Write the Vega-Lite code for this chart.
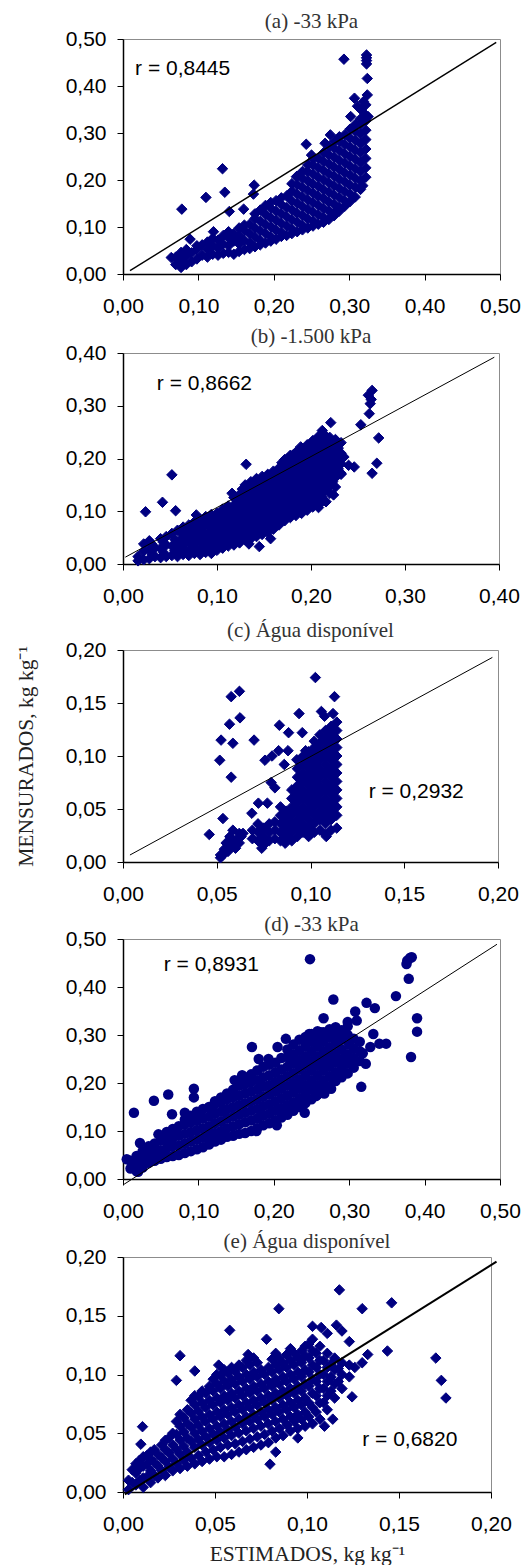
{
"$schema": "https://vega.github.io/schema/vega-lite/v6.json",
"background": "white",
"padding": {"left": 14, "top": 10, "right": 4, "bottom": 0},
"autosize": {"type": "pad"},
"config": {
  "view": {"stroke": "#8c8c8c", "strokeWidth": 1},
  "axis": {"grid": false, "domainColor": "#000000", "domainWidth": 1.5, "tickColor": "#000000", "tickSize": 6, "tickWidth": 1, "labelColor": "#000000", "labelFont": "Liberation Sans", "labelFontSize": 21, "labelFlush": false, "labelOverlap": false, "labelBound": false, "titleFont": "Liberation Serif", "titleFontSize": 21.5, "titleFontWeight": "normal", "titleColor": "#222222"},
  "axisX": {"labelPadding": 15},
  "axisY": {"labelPadding": 11},
  "title": {"font": "Liberation Serif", "fontSize": 21, "fontWeight": "normal", "color": "#333333", "offset": -1},
  "concat": {"spacing": 8}
},
"datasets": {
"a": [
{"x":0.078,"y":0.138},{"x":0.110,"y":0.163},{"x":0.132,"y":0.224},{"x":0.135,"y":0.174},{"x":0.141,"y":0.133},{"x":0.160,"y":0.138},{"x":0.174,"y":0.189},{"x":0.173,"y":0.170},{"x":0.089,"y":0.074},{"x":0.064,"y":0.035},{"x":0.120,"y":0.090},{"x":0.243,"y":0.276},{"x":0.293,"y":0.457},{"x":0.323,"y":0.466},{"x":0.323,"y":0.460},{"x":0.323,"y":0.454},{"x":0.323,"y":0.447},{"x":0.324,"y":0.416},{"x":0.324,"y":0.381},{"x":0.307,"y":0.374},{"x":0.319,"y":0.367},{"x":0.302,"y":0.335},{"x":0.316,"y":0.349},{"x":0.325,"y":0.335},{"x":0.318,"y":0.188},{"x":0.275,"y":0.296},{"x":0.268,"y":0.278},{"x":0.250,"y":0.253},{"x":0.230,"y":0.207},{"x":0.311,"y":0.357},{"x":0.322,"y":0.360},
{"x":0.070,"y":0.020},{"x":0.070,"y":0.036},
{"x":0.077,"y":0.014},{"x":0.077,"y":0.028},{"x":0.077,"y":0.046},
{"x":0.084,"y":0.020},{"x":0.084,"y":0.038},{"x":0.084,"y":0.052},
{"x":0.091,"y":0.026},{"x":0.091,"y":0.045},
{"x":0.098,"y":0.032},{"x":0.098,"y":0.052},{"x":0.098,"y":0.060},
{"x":0.105,"y":0.040},{"x":0.105,"y":0.062},
{"x":0.112,"y":0.036},{"x":0.112,"y":0.052},{"x":0.112,"y":0.068},
{"x":0.119,"y":0.042},{"x":0.119,"y":0.060},{"x":0.119,"y":0.076},
{"x":0.126,"y":0.040},{"x":0.126,"y":0.056},{"x":0.126,"y":0.072},
{"x":0.133,"y":0.044},{"x":0.133,"y":0.064},{"x":0.133,"y":0.082},
{"x":0.140,"y":0.046},{"x":0.140,"y":0.060},{"x":0.140,"y":0.078},{"x":0.140,"y":0.090},
{"x":0.147,"y":0.042},{"x":0.147,"y":0.070},{"x":0.147,"y":0.086},
{"x":0.154,"y":0.048},{"x":0.154,"y":0.064},{"x":0.154,"y":0.080},{"x":0.154,"y":0.098},
{"x":0.161,"y":0.052},{"x":0.161,"y":0.072},{"x":0.161,"y":0.092},{"x":0.161,"y":0.104},
{"x":0.168,"y":0.054},{"x":0.168,"y":0.066},{"x":0.168,"y":0.086},{"x":0.168,"y":0.106},
{"x":0.175,"y":0.058},{"x":0.175,"y":0.078},{"x":0.175,"y":0.098},{"x":0.175,"y":0.118},{"x":0.175,"y":0.128},
{"x":0.182,"y":0.062},{"x":0.182,"y":0.072},{"x":0.182,"y":0.092},{"x":0.182,"y":0.112},{"x":0.182,"y":0.136},
{"x":0.189,"y":0.066},{"x":0.189,"y":0.086},{"x":0.189,"y":0.106},{"x":0.189,"y":0.126},{"x":0.189,"y":0.146},
{"x":0.196,"y":0.070},{"x":0.196,"y":0.080},{"x":0.196,"y":0.100},{"x":0.196,"y":0.120},{"x":0.196,"y":0.140},{"x":0.196,"y":0.152},
{"x":0.203,"y":0.074},{"x":0.203,"y":0.094},{"x":0.203,"y":0.114},{"x":0.203,"y":0.134},{"x":0.203,"y":0.156},
{"x":0.210,"y":0.080},{"x":0.210,"y":0.088},{"x":0.210,"y":0.108},{"x":0.210,"y":0.128},{"x":0.210,"y":0.148},{"x":0.210,"y":0.162},
{"x":0.217,"y":0.082},{"x":0.217,"y":0.102},{"x":0.217,"y":0.122},{"x":0.217,"y":0.142},{"x":0.217,"y":0.166},
{"x":0.224,"y":0.086},{"x":0.224,"y":0.096},{"x":0.224,"y":0.116},{"x":0.224,"y":0.136},{"x":0.224,"y":0.156},{"x":0.224,"y":0.176},{"x":0.224,"y":0.192},
{"x":0.231,"y":0.090},{"x":0.231,"y":0.110},{"x":0.231,"y":0.130},{"x":0.231,"y":0.150},{"x":0.231,"y":0.170},{"x":0.231,"y":0.190},{"x":0.231,"y":0.208},
{"x":0.238,"y":0.094},{"x":0.238,"y":0.104},{"x":0.238,"y":0.124},{"x":0.238,"y":0.144},{"x":0.238,"y":0.164},{"x":0.238,"y":0.184},{"x":0.238,"y":0.204},{"x":0.238,"y":0.218},
{"x":0.245,"y":0.098},{"x":0.245,"y":0.118},{"x":0.245,"y":0.138},{"x":0.245,"y":0.158},{"x":0.245,"y":0.178},{"x":0.245,"y":0.198},{"x":0.245,"y":0.218},{"x":0.245,"y":0.232},
{"x":0.252,"y":0.102},{"x":0.252,"y":0.112},{"x":0.252,"y":0.132},{"x":0.252,"y":0.152},{"x":0.252,"y":0.172},{"x":0.252,"y":0.192},{"x":0.252,"y":0.212},{"x":0.252,"y":0.232},{"x":0.252,"y":0.244},
{"x":0.259,"y":0.106},{"x":0.259,"y":0.126},{"x":0.259,"y":0.146},{"x":0.259,"y":0.166},{"x":0.259,"y":0.186},{"x":0.259,"y":0.206},{"x":0.259,"y":0.226},{"x":0.259,"y":0.246},
{"x":0.266,"y":0.110},{"x":0.266,"y":0.120},{"x":0.266,"y":0.140},{"x":0.266,"y":0.160},{"x":0.266,"y":0.180},{"x":0.266,"y":0.200},{"x":0.266,"y":0.220},{"x":0.266,"y":0.240},{"x":0.266,"y":0.258},
{"x":0.273,"y":0.116},{"x":0.273,"y":0.134},{"x":0.273,"y":0.154},{"x":0.273,"y":0.174},{"x":0.273,"y":0.194},{"x":0.273,"y":0.214},{"x":0.273,"y":0.234},{"x":0.273,"y":0.254},{"x":0.273,"y":0.270},
{"x":0.280,"y":0.124},{"x":0.280,"y":0.130},{"x":0.280,"y":0.148},{"x":0.280,"y":0.168},{"x":0.280,"y":0.188},{"x":0.280,"y":0.208},{"x":0.280,"y":0.228},{"x":0.280,"y":0.248},{"x":0.280,"y":0.268},{"x":0.280,"y":0.282},
{"x":0.287,"y":0.134},{"x":0.287,"y":0.142},{"x":0.287,"y":0.162},{"x":0.287,"y":0.182},{"x":0.287,"y":0.202},{"x":0.287,"y":0.222},{"x":0.287,"y":0.242},{"x":0.287,"y":0.262},{"x":0.287,"y":0.282},{"x":0.287,"y":0.292},
{"x":0.294,"y":0.144},{"x":0.294,"y":0.156},{"x":0.294,"y":0.176},{"x":0.294,"y":0.196},{"x":0.294,"y":0.216},{"x":0.294,"y":0.236},{"x":0.294,"y":0.256},{"x":0.294,"y":0.276},{"x":0.294,"y":0.296},
{"x":0.301,"y":0.154},{"x":0.301,"y":0.170},{"x":0.301,"y":0.190},{"x":0.301,"y":0.210},{"x":0.301,"y":0.230},{"x":0.301,"y":0.250},{"x":0.301,"y":0.270},{"x":0.301,"y":0.290},{"x":0.301,"y":0.308},
{"x":0.308,"y":0.164},{"x":0.308,"y":0.184},{"x":0.308,"y":0.204},{"x":0.308,"y":0.224},{"x":0.308,"y":0.244},{"x":0.308,"y":0.264},{"x":0.308,"y":0.284},{"x":0.308,"y":0.304},{"x":0.308,"y":0.318},
{"x":0.315,"y":0.180},{"x":0.315,"y":0.198},{"x":0.315,"y":0.218},{"x":0.315,"y":0.238},{"x":0.315,"y":0.258},{"x":0.315,"y":0.278},{"x":0.315,"y":0.298},{"x":0.315,"y":0.318},{"x":0.315,"y":0.330},
{"x":0.322,"y":0.206},{"x":0.322,"y":0.226},{"x":0.322,"y":0.246},{"x":0.322,"y":0.266},{"x":0.322,"y":0.286},{"x":0.322,"y":0.306},{"x":0.322,"y":0.326},{"x":0.322,"y":0.338}
],
"b": [
{"x":0.024,"y":0.099},{"x":0.042,"y":0.117},{"x":0.056,"y":0.101},{"x":0.052,"y":0.169},{"x":0.131,"y":0.189},{"x":0.116,"y":0.134},{"x":0.078,"y":0.093},{"x":0.134,"y":0.038},{"x":0.145,"y":0.033},{"x":0.157,"y":0.048},{"x":0.265,"y":0.329},{"x":0.261,"y":0.320},{"x":0.263,"y":0.304},{"x":0.264,"y":0.312},{"x":0.262,"y":0.285},{"x":0.253,"y":0.264},{"x":0.221,"y":0.268},{"x":0.272,"y":0.239},{"x":0.270,"y":0.191},{"x":0.265,"y":0.172},{"x":0.246,"y":0.184},{"x":0.240,"y":0.187},{"x":0.232,"y":0.172},{"x":0.224,"y":0.131},{"x":0.219,"y":0.147},{"x":0.208,"y":0.107},{"x":0.216,"y":0.118},{"x":0.235,"y":0.203},{"x":0.189,"y":0.222},{"x":0.212,"y":0.253},{"x":0.230,"y":0.228},{"x":0.215,"y":0.240},
{"x":0.016,"y":0.006},{"x":0.016,"y":0.014},
{"x":0.022,"y":0.008},{"x":0.022,"y":0.024},{"x":0.022,"y":0.038},
{"x":0.028,"y":0.010},{"x":0.028,"y":0.028},{"x":0.028,"y":0.044},
{"x":0.034,"y":0.014},{"x":0.034,"y":0.030},
{"x":0.040,"y":0.012},{"x":0.040,"y":0.030},{"x":0.040,"y":0.048},
{"x":0.046,"y":0.014},{"x":0.046,"y":0.036},{"x":0.046,"y":0.052},
{"x":0.052,"y":0.016},{"x":0.052,"y":0.034},{"x":0.052,"y":0.058},
{"x":0.058,"y":0.014},{"x":0.058,"y":0.040},{"x":0.058,"y":0.064},
{"x":0.064,"y":0.018},{"x":0.064,"y":0.036},{"x":0.064,"y":0.054},{"x":0.064,"y":0.070},
{"x":0.070,"y":0.016},{"x":0.070,"y":0.042},{"x":0.070,"y":0.060},{"x":0.070,"y":0.074},
{"x":0.076,"y":0.020},{"x":0.076,"y":0.038},{"x":0.076,"y":0.056},{"x":0.076,"y":0.080},
{"x":0.082,"y":0.018},{"x":0.082,"y":0.044},{"x":0.082,"y":0.062},{"x":0.082,"y":0.084},
{"x":0.088,"y":0.022},{"x":0.088,"y":0.040},{"x":0.088,"y":0.058},{"x":0.088,"y":0.076},{"x":0.088,"y":0.090},
{"x":0.094,"y":0.020},{"x":0.094,"y":0.046},{"x":0.094,"y":0.064},{"x":0.094,"y":0.082},{"x":0.094,"y":0.094},
{"x":0.100,"y":0.026},{"x":0.100,"y":0.042},{"x":0.100,"y":0.060},{"x":0.100,"y":0.078},{"x":0.100,"y":0.096},
{"x":0.106,"y":0.030},{"x":0.106,"y":0.048},{"x":0.106,"y":0.066},{"x":0.106,"y":0.084},{"x":0.106,"y":0.104},
{"x":0.112,"y":0.034},{"x":0.112,"y":0.052},{"x":0.112,"y":0.070},{"x":0.112,"y":0.088},{"x":0.112,"y":0.110},
{"x":0.118,"y":0.036},{"x":0.118,"y":0.058},{"x":0.118,"y":0.076},{"x":0.118,"y":0.094},{"x":0.118,"y":0.112},{"x":0.118,"y":0.126},
{"x":0.124,"y":0.040},{"x":0.124,"y":0.060},{"x":0.124,"y":0.078},{"x":0.124,"y":0.096},{"x":0.124,"y":0.114},{"x":0.124,"y":0.132},
{"x":0.130,"y":0.046},{"x":0.130,"y":0.064},{"x":0.130,"y":0.082},{"x":0.130,"y":0.100},{"x":0.130,"y":0.118},{"x":0.130,"y":0.136},{"x":0.130,"y":0.150},
{"x":0.136,"y":0.048},{"x":0.136,"y":0.070},{"x":0.136,"y":0.088},{"x":0.136,"y":0.106},{"x":0.136,"y":0.124},{"x":0.136,"y":0.142},{"x":0.136,"y":0.156},
{"x":0.142,"y":0.052},{"x":0.142,"y":0.072},{"x":0.142,"y":0.090},{"x":0.142,"y":0.108},{"x":0.142,"y":0.126},{"x":0.142,"y":0.144},{"x":0.142,"y":0.162},
{"x":0.148,"y":0.056},{"x":0.148,"y":0.076},{"x":0.148,"y":0.094},{"x":0.148,"y":0.112},{"x":0.148,"y":0.130},{"x":0.148,"y":0.148},{"x":0.148,"y":0.166},
{"x":0.154,"y":0.060},{"x":0.154,"y":0.082},{"x":0.154,"y":0.100},{"x":0.154,"y":0.118},{"x":0.154,"y":0.136},{"x":0.154,"y":0.154},{"x":0.154,"y":0.170},
{"x":0.160,"y":0.066},{"x":0.160,"y":0.086},{"x":0.160,"y":0.104},{"x":0.160,"y":0.122},{"x":0.160,"y":0.140},{"x":0.160,"y":0.158},{"x":0.160,"y":0.176},
{"x":0.166,"y":0.074},{"x":0.166,"y":0.092},{"x":0.166,"y":0.110},{"x":0.166,"y":0.128},{"x":0.166,"y":0.146},{"x":0.166,"y":0.164},{"x":0.166,"y":0.182},
{"x":0.172,"y":0.082},{"x":0.172,"y":0.098},{"x":0.172,"y":0.116},{"x":0.172,"y":0.134},{"x":0.172,"y":0.152},{"x":0.172,"y":0.170},{"x":0.172,"y":0.188},{"x":0.172,"y":0.198},
{"x":0.178,"y":0.088},{"x":0.178,"y":0.104},{"x":0.178,"y":0.122},{"x":0.178,"y":0.140},{"x":0.178,"y":0.158},{"x":0.178,"y":0.176},{"x":0.178,"y":0.194},{"x":0.178,"y":0.206},
{"x":0.184,"y":0.092},{"x":0.184,"y":0.110},{"x":0.184,"y":0.128},{"x":0.184,"y":0.146},{"x":0.184,"y":0.164},{"x":0.184,"y":0.182},{"x":0.184,"y":0.200},{"x":0.184,"y":0.212},
{"x":0.190,"y":0.096},{"x":0.190,"y":0.114},{"x":0.190,"y":0.132},{"x":0.190,"y":0.150},{"x":0.190,"y":0.168},{"x":0.190,"y":0.186},{"x":0.190,"y":0.204},{"x":0.190,"y":0.220},
{"x":0.196,"y":0.102},{"x":0.196,"y":0.120},{"x":0.196,"y":0.138},{"x":0.196,"y":0.156},{"x":0.196,"y":0.174},{"x":0.196,"y":0.192},{"x":0.196,"y":0.210},{"x":0.196,"y":0.226},
{"x":0.202,"y":0.108},{"x":0.202,"y":0.126},{"x":0.202,"y":0.144},{"x":0.202,"y":0.162},{"x":0.202,"y":0.180},{"x":0.202,"y":0.198},{"x":0.202,"y":0.216},{"x":0.202,"y":0.234},
{"x":0.208,"y":0.112},{"x":0.208,"y":0.132},{"x":0.208,"y":0.150},{"x":0.208,"y":0.168},{"x":0.208,"y":0.186},{"x":0.208,"y":0.204},{"x":0.208,"y":0.222},{"x":0.208,"y":0.242},
{"x":0.214,"y":0.120},{"x":0.214,"y":0.138},{"x":0.214,"y":0.156},{"x":0.214,"y":0.174},{"x":0.214,"y":0.192},{"x":0.214,"y":0.210},{"x":0.214,"y":0.228},{"x":0.214,"y":0.246},
{"x":0.220,"y":0.134},{"x":0.220,"y":0.150},{"x":0.220,"y":0.168},{"x":0.220,"y":0.186},{"x":0.220,"y":0.204},{"x":0.220,"y":0.222},{"x":0.220,"y":0.240},
{"x":0.226,"y":0.146},{"x":0.226,"y":0.164},{"x":0.226,"y":0.182},{"x":0.226,"y":0.200},{"x":0.226,"y":0.218},{"x":0.226,"y":0.236},
{"x":0.232,"y":0.170},{"x":0.232,"y":0.190},{"x":0.232,"y":0.210},{"x":0.232,"y":0.230},
{"x":0.031,"y":0.019},{"x":0.031,"y":0.037},
{"x":0.043,"y":0.022},{"x":0.043,"y":0.041},
{"x":0.055,"y":0.025},{"x":0.055,"y":0.047},
{"x":0.061,"y":0.027},{"x":0.061,"y":0.045},{"x":0.061,"y":0.062},
{"x":0.067,"y":0.027},{"x":0.067,"y":0.049},{"x":0.067,"y":0.066},
{"x":0.073,"y":0.029},{"x":0.073,"y":0.047},{"x":0.073,"y":0.068},
{"x":0.079,"y":0.029},{"x":0.079,"y":0.050},{"x":0.079,"y":0.070},
{"x":0.085,"y":0.031},{"x":0.085,"y":0.053},{"x":0.085,"y":0.072},
{"x":0.091,"y":0.031},{"x":0.091,"y":0.055},{"x":0.091,"y":0.073},{"x":0.091,"y":0.088},
{"x":0.097,"y":0.034},{"x":0.097,"y":0.052},{"x":0.097,"y":0.071},{"x":0.097,"y":0.088},
{"x":0.103,"y":0.036},{"x":0.103,"y":0.054},{"x":0.103,"y":0.072},{"x":0.103,"y":0.091},
{"x":0.109,"y":0.039},{"x":0.109,"y":0.057},{"x":0.109,"y":0.075},{"x":0.109,"y":0.094},
{"x":0.115,"y":0.044},{"x":0.115,"y":0.062},{"x":0.115,"y":0.080},{"x":0.115,"y":0.099},
{"x":0.121,"y":0.048},{"x":0.121,"y":0.067},{"x":0.121,"y":0.085},{"x":0.121,"y":0.104},{"x":0.121,"y":0.122},
{"x":0.127,"y":0.052},{"x":0.127,"y":0.071},{"x":0.127,"y":0.089},{"x":0.127,"y":0.107},{"x":0.127,"y":0.125},{"x":0.127,"y":0.142},
{"x":0.133,"y":0.056},{"x":0.133,"y":0.074},{"x":0.133,"y":0.093},{"x":0.133,"y":0.111},{"x":0.133,"y":0.130},{"x":0.133,"y":0.146},
{"x":0.139,"y":0.060},{"x":0.139,"y":0.079},{"x":0.139,"y":0.097},{"x":0.139,"y":0.115},{"x":0.139,"y":0.134},{"x":0.139,"y":0.152},
{"x":0.145,"y":0.064},{"x":0.145,"y":0.083},{"x":0.145,"y":0.101},{"x":0.145,"y":0.120},{"x":0.145,"y":0.139},{"x":0.145,"y":0.157},
{"x":0.151,"y":0.068},{"x":0.151,"y":0.087},{"x":0.151,"y":0.106},{"x":0.151,"y":0.124},{"x":0.151,"y":0.143},{"x":0.151,"y":0.161},
{"x":0.157,"y":0.074},{"x":0.157,"y":0.093},{"x":0.157,"y":0.111},{"x":0.157,"y":0.130},{"x":0.157,"y":0.149},{"x":0.157,"y":0.167},
{"x":0.163,"y":0.080},{"x":0.163,"y":0.098},{"x":0.163,"y":0.117},{"x":0.163,"y":0.136},{"x":0.163,"y":0.154},{"x":0.163,"y":0.172},
{"x":0.169,"y":0.087},{"x":0.169,"y":0.105},{"x":0.169,"y":0.124},{"x":0.169,"y":0.142},{"x":0.169,"y":0.160},{"x":0.169,"y":0.178},{"x":0.169,"y":0.192},
{"x":0.175,"y":0.093},{"x":0.175,"y":0.112},{"x":0.175,"y":0.130},{"x":0.175,"y":0.149},{"x":0.175,"y":0.167},{"x":0.175,"y":0.185},{"x":0.175,"y":0.200},
{"x":0.181,"y":0.098},{"x":0.181,"y":0.117},{"x":0.181,"y":0.136},{"x":0.181,"y":0.154},{"x":0.181,"y":0.173},{"x":0.181,"y":0.191},{"x":0.181,"y":0.207},
{"x":0.187,"y":0.104},{"x":0.187,"y":0.123},{"x":0.187,"y":0.141},{"x":0.187,"y":0.159},{"x":0.187,"y":0.177},{"x":0.187,"y":0.195},{"x":0.187,"y":0.214},
{"x":0.193,"y":0.109},{"x":0.193,"y":0.128},{"x":0.193,"y":0.147},{"x":0.193,"y":0.165},{"x":0.193,"y":0.183},{"x":0.193,"y":0.201},{"x":0.193,"y":0.219},
{"x":0.199,"y":0.116},{"x":0.199,"y":0.134},{"x":0.199,"y":0.153},{"x":0.199,"y":0.171},{"x":0.199,"y":0.189},{"x":0.199,"y":0.207},{"x":0.199,"y":0.226},
{"x":0.205,"y":0.122},{"x":0.205,"y":0.141},{"x":0.205,"y":0.159},{"x":0.205,"y":0.177},{"x":0.205,"y":0.195},{"x":0.205,"y":0.213},{"x":0.205,"y":0.232},
{"x":0.211,"y":0.128},{"x":0.211,"y":0.147},{"x":0.211,"y":0.165},{"x":0.211,"y":0.183},{"x":0.211,"y":0.201},{"x":0.211,"y":0.219},{"x":0.211,"y":0.238},
{"x":0.217,"y":0.143},{"x":0.217,"y":0.160},{"x":0.217,"y":0.178},{"x":0.217,"y":0.196},{"x":0.217,"y":0.214},{"x":0.217,"y":0.232},
{"x":0.223,"y":0.156},{"x":0.223,"y":0.174},{"x":0.223,"y":0.192},{"x":0.223,"y":0.210},{"x":0.223,"y":0.228},
{"x":0.229,"y":0.180},{"x":0.229,"y":0.200},{"x":0.229,"y":0.220}
],
"c": [
{"x":0.1026,"y":0.174},{"x":0.1128,"y":0.156},{"x":0.0621,"y":0.161},{"x":0.0577,"y":0.156},{"x":0.0624,"y":0.136},{"x":0.0568,"y":0.130},{"x":0.0523,"y":0.115},{"x":0.0586,"y":0.112},{"x":0.0516,"y":0.096},{"x":0.0577,"y":0.080},{"x":0.0699,"y":0.115},{"x":0.0533,"y":0.041},{"x":0.0460,"y":0.026},{"x":0.0586,"y":0.030},{"x":0.0620,"y":0.027},{"x":0.0687,"y":0.046},{"x":0.0722,"y":0.0555},{"x":0.0770,"y":0.0555},{"x":0.0790,"y":0.075},{"x":0.0810,"y":0.070},{"x":0.0757,"y":0.096},{"x":0.0795,"y":0.100},{"x":0.0830,"y":0.105},{"x":0.0860,"y":0.092},{"x":0.0880,"y":0.105},{"x":0.0834,"y":0.129},{"x":0.0883,"y":0.122},{"x":0.0939,"y":0.140},{"x":0.0956,"y":0.122},{"x":0.0974,"y":0.105},{"x":0.0927,"y":0.0965},{"x":0.1058,"y":0.142},{"x":0.1120,"y":0.140},{"x":0.1075,"y":0.1375},{"x":0.0865,"y":0.0177},{"x":0.0740,"y":0.013},{"x":0.1005,"y":0.027},{"x":0.1084,"y":0.024},{"x":0.0520,"y":0.0066},
{"x":0.053,"y":0.006},{"x":0.054,"y":0.012},{"x":0.056,"y":0.010},{"x":0.055,"y":0.018},{"x":0.058,"y":0.015},{"x":0.060,"y":0.013},{"x":0.059,"y":0.020},{"x":0.061,"y":0.022},{"x":0.062,"y":0.018},{"x":0.057,"y":0.024},{"x":0.063,"y":0.024},{"x":0.064,"y":0.027},{"x":0.052,"y":0.004},
{"x":0.069,"y":0.022},{"x":0.069,"y":0.030},
{"x":0.072,"y":0.020},{"x":0.072,"y":0.028},{"x":0.072,"y":0.036},
{"x":0.075,"y":0.016},{"x":0.075,"y":0.024},{"x":0.075,"y":0.032},
{"x":0.078,"y":0.020},{"x":0.078,"y":0.028},{"x":0.078,"y":0.036},
{"x":0.081,"y":0.022},{"x":0.081,"y":0.030},{"x":0.081,"y":0.038},
{"x":0.084,"y":0.020},{"x":0.084,"y":0.028},{"x":0.084,"y":0.036},{"x":0.084,"y":0.044},{"x":0.084,"y":0.052},
{"x":0.087,"y":0.024},{"x":0.087,"y":0.032},{"x":0.087,"y":0.040},{"x":0.087,"y":0.048},
{"x":0.090,"y":0.020},{"x":0.090,"y":0.028},{"x":0.090,"y":0.036},{"x":0.090,"y":0.044},{"x":0.090,"y":0.052},{"x":0.090,"y":0.060},{"x":0.090,"y":0.068},
{"x":0.093,"y":0.024},{"x":0.093,"y":0.032},{"x":0.093,"y":0.040},{"x":0.093,"y":0.048},{"x":0.093,"y":0.056},{"x":0.093,"y":0.064},{"x":0.093,"y":0.072},{"x":0.093,"y":0.080},{"x":0.093,"y":0.088},
{"x":0.096,"y":0.028},{"x":0.096,"y":0.036},{"x":0.096,"y":0.044},{"x":0.096,"y":0.052},{"x":0.096,"y":0.060},{"x":0.096,"y":0.068},{"x":0.096,"y":0.076},{"x":0.096,"y":0.084},{"x":0.096,"y":0.092},{"x":0.096,"y":0.100},
{"x":0.099,"y":0.024},{"x":0.099,"y":0.032},{"x":0.099,"y":0.040},{"x":0.099,"y":0.048},{"x":0.099,"y":0.056},{"x":0.099,"y":0.064},{"x":0.099,"y":0.072},{"x":0.099,"y":0.080},{"x":0.099,"y":0.088},{"x":0.099,"y":0.096},{"x":0.099,"y":0.104},
{"x":0.102,"y":0.028},{"x":0.102,"y":0.036},{"x":0.102,"y":0.044},{"x":0.102,"y":0.052},{"x":0.102,"y":0.060},{"x":0.102,"y":0.068},{"x":0.102,"y":0.076},{"x":0.102,"y":0.084},{"x":0.102,"y":0.092},{"x":0.102,"y":0.100},{"x":0.102,"y":0.108},{"x":0.102,"y":0.114},
{"x":0.105,"y":0.030},{"x":0.105,"y":0.040},{"x":0.105,"y":0.048},{"x":0.105,"y":0.056},{"x":0.105,"y":0.064},{"x":0.105,"y":0.072},{"x":0.105,"y":0.080},{"x":0.105,"y":0.088},{"x":0.105,"y":0.096},{"x":0.105,"y":0.104},{"x":0.105,"y":0.112},{"x":0.105,"y":0.120},
{"x":0.108,"y":0.026},{"x":0.108,"y":0.036},{"x":0.108,"y":0.044},{"x":0.108,"y":0.052},{"x":0.108,"y":0.060},{"x":0.108,"y":0.068},{"x":0.108,"y":0.076},{"x":0.108,"y":0.084},{"x":0.108,"y":0.092},{"x":0.108,"y":0.100},{"x":0.108,"y":0.108},{"x":0.108,"y":0.116},{"x":0.108,"y":0.124},
{"x":0.111,"y":0.030},{"x":0.111,"y":0.040},{"x":0.111,"y":0.048},{"x":0.111,"y":0.056},{"x":0.111,"y":0.064},{"x":0.111,"y":0.072},{"x":0.111,"y":0.080},{"x":0.111,"y":0.088},{"x":0.111,"y":0.096},{"x":0.111,"y":0.104},{"x":0.111,"y":0.112},{"x":0.111,"y":0.120},{"x":0.111,"y":0.128},
{"x":0.114,"y":0.032},{"x":0.114,"y":0.044},{"x":0.114,"y":0.052},{"x":0.114,"y":0.060},{"x":0.114,"y":0.068},{"x":0.114,"y":0.076},{"x":0.114,"y":0.084},{"x":0.114,"y":0.092},{"x":0.114,"y":0.100},{"x":0.114,"y":0.108},{"x":0.114,"y":0.116},{"x":0.114,"y":0.124},{"x":0.114,"y":0.132}
],
"d": [
{"x":0.248,"y":0.458},{"x":0.377,"y":0.455},{"x":0.381,"y":0.461},{"x":0.383,"y":0.462},{"x":0.376,"y":0.448},{"x":0.379,"y":0.417},{"x":0.362,"y":0.381},{"x":0.390,"y":0.335},{"x":0.390,"y":0.307},{"x":0.382,"y":0.254},{"x":0.349,"y":0.282},{"x":0.340,"y":0.282},{"x":0.332,"y":0.302},{"x":0.328,"y":0.275},{"x":0.334,"y":0.356},{"x":0.323,"y":0.367},{"x":0.308,"y":0.349},{"x":0.310,"y":0.330},{"x":0.298,"y":0.327},{"x":0.279,"y":0.374},{"x":0.266,"y":0.335},{"x":0.316,"y":0.192},{"x":0.0145,"y":0.138},{"x":0.041,"y":0.163},{"x":0.060,"y":0.176},{"x":0.094,"y":0.188},{"x":0.094,"y":0.170},{"x":0.065,"y":0.135},{"x":0.082,"y":0.138},{"x":0.171,"y":0.275},{"x":0.216,"y":0.292},{"x":0.205,"y":0.275},{"x":0.193,"y":0.250},{"x":0.180,"y":0.250},{"x":0.158,"y":0.216},{"x":0.148,"y":0.206},{"x":0.247,"y":0.302},{"x":0.262,"y":0.306},{"x":0.276,"y":0.188},{"x":0.267,"y":0.178},{"x":0.256,"y":0.173},{"x":0.241,"y":0.138},{"x":0.204,"y":0.112},{"x":0.177,"y":0.100},{"x":0.005,"y":0.041},{"x":0.0225,"y":0.075},{"x":0.047,"y":0.093},{"x":0.060,"y":0.091},{"x":0.016,"y":0.026},{"x":0.020,"y":0.015},{"x":0.027,"y":0.033},{"x":0.029,"y":0.057},{"x":0.318,"y":0.262},{"x":0.322,"y":0.240},{"x":0.300,"y":0.280},
{"x":0.010,"y":0.022},{"x":0.010,"y":0.038},
{"x":0.018,"y":0.016},{"x":0.018,"y":0.030},{"x":0.018,"y":0.048},
{"x":0.026,"y":0.024},{"x":0.026,"y":0.040},{"x":0.026,"y":0.058},
{"x":0.034,"y":0.034},{"x":0.034,"y":0.050},{"x":0.034,"y":0.068},
{"x":0.042,"y":0.038},{"x":0.042,"y":0.056},{"x":0.042,"y":0.074},
{"x":0.050,"y":0.042},{"x":0.050,"y":0.060},{"x":0.050,"y":0.080},{"x":0.050,"y":0.090},
{"x":0.058,"y":0.046},{"x":0.058,"y":0.064},{"x":0.058,"y":0.082},{"x":0.058,"y":0.098},
{"x":0.066,"y":0.048},{"x":0.066,"y":0.068},{"x":0.066,"y":0.086},{"x":0.066,"y":0.104},
{"x":0.074,"y":0.050},{"x":0.074,"y":0.070},{"x":0.074,"y":0.090},{"x":0.074,"y":0.110},
{"x":0.082,"y":0.054},{"x":0.082,"y":0.074},{"x":0.082,"y":0.094},{"x":0.082,"y":0.114},{"x":0.082,"y":0.124},
{"x":0.090,"y":0.058},{"x":0.090,"y":0.078},{"x":0.090,"y":0.098},{"x":0.090,"y":0.118},{"x":0.090,"y":0.132},
{"x":0.098,"y":0.062},{"x":0.098,"y":0.082},{"x":0.098,"y":0.102},{"x":0.098,"y":0.122},{"x":0.098,"y":0.140},
{"x":0.106,"y":0.066},{"x":0.106,"y":0.086},{"x":0.106,"y":0.106},{"x":0.106,"y":0.126},{"x":0.106,"y":0.146},
{"x":0.114,"y":0.072},{"x":0.114,"y":0.090},{"x":0.114,"y":0.110},{"x":0.114,"y":0.130},{"x":0.114,"y":0.150},
{"x":0.122,"y":0.078},{"x":0.122,"y":0.096},{"x":0.122,"y":0.116},{"x":0.122,"y":0.136},{"x":0.122,"y":0.156},{"x":0.122,"y":0.162},
{"x":0.130,"y":0.082},{"x":0.130,"y":0.100},{"x":0.130,"y":0.120},{"x":0.130,"y":0.140},{"x":0.130,"y":0.160},{"x":0.130,"y":0.170},
{"x":0.138,"y":0.088},{"x":0.138,"y":0.106},{"x":0.138,"y":0.126},{"x":0.138,"y":0.146},{"x":0.138,"y":0.166},{"x":0.138,"y":0.178},
{"x":0.146,"y":0.090},{"x":0.146,"y":0.110},{"x":0.146,"y":0.130},{"x":0.146,"y":0.150},{"x":0.146,"y":0.170},{"x":0.146,"y":0.186},
{"x":0.154,"y":0.094},{"x":0.154,"y":0.114},{"x":0.154,"y":0.134},{"x":0.154,"y":0.154},{"x":0.154,"y":0.174},{"x":0.154,"y":0.194},{"x":0.154,"y":0.204},
{"x":0.162,"y":0.096},{"x":0.162,"y":0.118},{"x":0.162,"y":0.138},{"x":0.162,"y":0.158},{"x":0.162,"y":0.178},{"x":0.162,"y":0.198},{"x":0.162,"y":0.212},
{"x":0.170,"y":0.100},{"x":0.170,"y":0.122},{"x":0.170,"y":0.142},{"x":0.170,"y":0.162},{"x":0.170,"y":0.182},{"x":0.170,"y":0.202},{"x":0.170,"y":0.218},
{"x":0.178,"y":0.106},{"x":0.178,"y":0.126},{"x":0.178,"y":0.146},{"x":0.178,"y":0.166},{"x":0.178,"y":0.186},{"x":0.178,"y":0.206},{"x":0.178,"y":0.226},
{"x":0.186,"y":0.112},{"x":0.186,"y":0.132},{"x":0.186,"y":0.152},{"x":0.186,"y":0.172},{"x":0.186,"y":0.192},{"x":0.186,"y":0.212},{"x":0.186,"y":0.234},
{"x":0.194,"y":0.116},{"x":0.194,"y":0.136},{"x":0.194,"y":0.156},{"x":0.194,"y":0.176},{"x":0.194,"y":0.196},{"x":0.194,"y":0.216},{"x":0.194,"y":0.238},
{"x":0.202,"y":0.122},{"x":0.202,"y":0.142},{"x":0.202,"y":0.162},{"x":0.202,"y":0.182},{"x":0.202,"y":0.202},{"x":0.202,"y":0.222},{"x":0.202,"y":0.242},
{"x":0.210,"y":0.128},{"x":0.210,"y":0.148},{"x":0.210,"y":0.168},{"x":0.210,"y":0.188},{"x":0.210,"y":0.208},{"x":0.210,"y":0.228},{"x":0.210,"y":0.252},
{"x":0.218,"y":0.134},{"x":0.218,"y":0.154},{"x":0.218,"y":0.174},{"x":0.218,"y":0.194},{"x":0.218,"y":0.214},{"x":0.218,"y":0.234},{"x":0.218,"y":0.254},{"x":0.218,"y":0.270},
{"x":0.226,"y":0.142},{"x":0.226,"y":0.160},{"x":0.226,"y":0.180},{"x":0.226,"y":0.200},{"x":0.226,"y":0.220},{"x":0.226,"y":0.240},{"x":0.226,"y":0.260},{"x":0.226,"y":0.280},
{"x":0.234,"y":0.150},{"x":0.234,"y":0.168},{"x":0.234,"y":0.188},{"x":0.234,"y":0.208},{"x":0.234,"y":0.228},{"x":0.234,"y":0.248},{"x":0.234,"y":0.268},{"x":0.234,"y":0.290},
{"x":0.242,"y":0.158},{"x":0.242,"y":0.176},{"x":0.242,"y":0.196},{"x":0.242,"y":0.216},{"x":0.242,"y":0.236},{"x":0.242,"y":0.256},{"x":0.242,"y":0.276},{"x":0.242,"y":0.296},
{"x":0.250,"y":0.166},{"x":0.250,"y":0.186},{"x":0.250,"y":0.206},{"x":0.250,"y":0.226},{"x":0.250,"y":0.246},{"x":0.250,"y":0.266},{"x":0.250,"y":0.286},{"x":0.250,"y":0.302},
{"x":0.258,"y":0.176},{"x":0.258,"y":0.196},{"x":0.258,"y":0.216},{"x":0.258,"y":0.236},{"x":0.258,"y":0.256},{"x":0.258,"y":0.276},{"x":0.258,"y":0.296},{"x":0.258,"y":0.308},
{"x":0.266,"y":0.186},{"x":0.266,"y":0.206},{"x":0.266,"y":0.226},{"x":0.266,"y":0.246},{"x":0.266,"y":0.266},{"x":0.266,"y":0.286},{"x":0.266,"y":0.306},
{"x":0.274,"y":0.194},{"x":0.274,"y":0.214},{"x":0.274,"y":0.234},{"x":0.274,"y":0.254},{"x":0.274,"y":0.274},{"x":0.274,"y":0.294},{"x":0.274,"y":0.312},
{"x":0.282,"y":0.204},{"x":0.282,"y":0.222},{"x":0.282,"y":0.242},{"x":0.282,"y":0.262},{"x":0.282,"y":0.282},{"x":0.282,"y":0.302},{"x":0.282,"y":0.316},
{"x":0.290,"y":0.212},{"x":0.290,"y":0.230},{"x":0.290,"y":0.250},{"x":0.290,"y":0.270},{"x":0.290,"y":0.290},{"x":0.290,"y":0.310},
{"x":0.298,"y":0.220},{"x":0.298,"y":0.240},{"x":0.298,"y":0.260},{"x":0.298,"y":0.300},{"x":0.298,"y":0.318},
{"x":0.306,"y":0.232},{"x":0.306,"y":0.252},{"x":0.306,"y":0.272},{"x":0.306,"y":0.292},
{"x":0.314,"y":0.246},{"x":0.314,"y":0.266},{"x":0.314,"y":0.286}
],
"e": [
{"x":0.1176,"y":0.172},{"x":0.146,"y":0.161},{"x":0.130,"y":0.156},{"x":0.0847,"y":0.156},{"x":0.058,"y":0.1376},{"x":0.078,"y":0.130},{"x":0.031,"y":0.116},{"x":0.039,"y":0.103},{"x":0.029,"y":0.095},{"x":0.0106,"y":0.0556},{"x":0.0097,"y":0.0407},{"x":0.0799,"y":0.0237},{"x":0.083,"y":0.034},{"x":0.1245,"y":0.081},{"x":0.1437,"y":0.120},{"x":0.133,"y":0.117},{"x":0.123,"y":0.128},{"x":0.116,"y":0.142},{"x":0.119,"y":0.137},{"x":0.103,"y":0.141},{"x":0.1077,"y":0.140},{"x":0.111,"y":0.135},{"x":0.052,"y":0.108},{"x":0.068,"y":0.117},{"x":0.1095,"y":0.056},{"x":0.114,"y":0.062},{"x":0.095,"y":0.046},{"x":0.170,"y":0.114},{"x":0.173,"y":0.095},{"x":0.1755,"y":0.080},{"x":0.130,"y":0.110},{"x":0.126,"y":0.106},
{"x":0.003,"y":0.002},{"x":0.003,"y":0.010},
{"x":0.007,"y":0.006},{"x":0.007,"y":0.016},{"x":0.007,"y":0.024},
{"x":0.011,"y":0.004},{"x":0.011,"y":0.012},{"x":0.011,"y":0.022},{"x":0.011,"y":0.030},
{"x":0.015,"y":0.008},{"x":0.015,"y":0.018},{"x":0.015,"y":0.028},{"x":0.015,"y":0.034},
{"x":0.019,"y":0.012},{"x":0.019,"y":0.022},{"x":0.019,"y":0.032},
{"x":0.023,"y":0.014},{"x":0.023,"y":0.026},{"x":0.023,"y":0.036},{"x":0.023,"y":0.044},
{"x":0.027,"y":0.018},{"x":0.027,"y":0.028},{"x":0.027,"y":0.040},{"x":0.027,"y":0.050},
{"x":0.031,"y":0.020},{"x":0.031,"y":0.032},{"x":0.031,"y":0.044},{"x":0.031,"y":0.056},{"x":0.031,"y":0.066},
{"x":0.035,"y":0.022},{"x":0.035,"y":0.034},{"x":0.035,"y":0.046},{"x":0.035,"y":0.058},{"x":0.035,"y":0.070},
{"x":0.039,"y":0.024},{"x":0.039,"y":0.038},{"x":0.039,"y":0.050},{"x":0.039,"y":0.062},{"x":0.039,"y":0.074},{"x":0.039,"y":0.082},
{"x":0.043,"y":0.026},{"x":0.043,"y":0.040},{"x":0.043,"y":0.052},{"x":0.043,"y":0.064},{"x":0.043,"y":0.076},{"x":0.043,"y":0.086},
{"x":0.047,"y":0.028},{"x":0.047,"y":0.042},{"x":0.047,"y":0.054},{"x":0.047,"y":0.066},{"x":0.047,"y":0.078},{"x":0.047,"y":0.090},
{"x":0.051,"y":0.030},{"x":0.051,"y":0.044},{"x":0.051,"y":0.056},{"x":0.051,"y":0.068},{"x":0.051,"y":0.080},{"x":0.051,"y":0.092},{"x":0.051,"y":0.100},
{"x":0.055,"y":0.030},{"x":0.055,"y":0.046},{"x":0.055,"y":0.058},{"x":0.055,"y":0.070},{"x":0.055,"y":0.082},{"x":0.055,"y":0.094},{"x":0.055,"y":0.104},
{"x":0.059,"y":0.032},{"x":0.059,"y":0.048},{"x":0.059,"y":0.060},{"x":0.059,"y":0.072},{"x":0.059,"y":0.084},{"x":0.059,"y":0.096},{"x":0.059,"y":0.106},
{"x":0.063,"y":0.034},{"x":0.063,"y":0.050},{"x":0.063,"y":0.062},{"x":0.063,"y":0.074},{"x":0.063,"y":0.086},{"x":0.063,"y":0.098},{"x":0.063,"y":0.108},
{"x":0.067,"y":0.036},{"x":0.067,"y":0.052},{"x":0.067,"y":0.064},{"x":0.067,"y":0.076},{"x":0.067,"y":0.088},{"x":0.067,"y":0.100},{"x":0.067,"y":0.112},
{"x":0.071,"y":0.038},{"x":0.071,"y":0.054},{"x":0.071,"y":0.066},{"x":0.071,"y":0.078},{"x":0.071,"y":0.090},{"x":0.071,"y":0.102},{"x":0.071,"y":0.114},
{"x":0.075,"y":0.040},{"x":0.075,"y":0.056},{"x":0.075,"y":0.068},{"x":0.075,"y":0.080},{"x":0.075,"y":0.092},{"x":0.075,"y":0.104},
{"x":0.079,"y":0.042},{"x":0.079,"y":0.058},{"x":0.079,"y":0.070},{"x":0.079,"y":0.082},{"x":0.079,"y":0.094},{"x":0.079,"y":0.106},
{"x":0.083,"y":0.046},{"x":0.083,"y":0.060},{"x":0.083,"y":0.072},{"x":0.083,"y":0.084},{"x":0.083,"y":0.096},{"x":0.083,"y":0.108},{"x":0.083,"y":0.118},
{"x":0.087,"y":0.048},{"x":0.087,"y":0.062},{"x":0.087,"y":0.074},{"x":0.087,"y":0.086},{"x":0.087,"y":0.098},{"x":0.087,"y":0.110},
{"x":0.091,"y":0.052},{"x":0.091,"y":0.064},{"x":0.091,"y":0.076},{"x":0.091,"y":0.088},{"x":0.091,"y":0.100},{"x":0.091,"y":0.112},{"x":0.091,"y":0.122},
{"x":0.095,"y":0.054},{"x":0.095,"y":0.066},{"x":0.095,"y":0.078},{"x":0.095,"y":0.090},{"x":0.095,"y":0.102},{"x":0.095,"y":0.114},
{"x":0.099,"y":0.056},{"x":0.099,"y":0.068},{"x":0.099,"y":0.080},{"x":0.099,"y":0.092},{"x":0.099,"y":0.104},{"x":0.099,"y":0.116},{"x":0.099,"y":0.124},
{"x":0.103,"y":0.058},{"x":0.103,"y":0.072},{"x":0.103,"y":0.084},{"x":0.103,"y":0.096},{"x":0.103,"y":0.108},{"x":0.103,"y":0.120},{"x":0.103,"y":0.130},
{"x":0.107,"y":0.062},{"x":0.107,"y":0.076},{"x":0.107,"y":0.088},{"x":0.107,"y":0.100},{"x":0.107,"y":0.112},{"x":0.107,"y":0.124},
{"x":0.111,"y":0.070},{"x":0.111,"y":0.082},{"x":0.111,"y":0.094},{"x":0.111,"y":0.106},{"x":0.111,"y":0.118},
{"x":0.115,"y":0.080},{"x":0.115,"y":0.092},{"x":0.115,"y":0.104},{"x":0.115,"y":0.114},
{"x":0.119,"y":0.088},{"x":0.119,"y":0.100},{"x":0.119,"y":0.110},
{"x":0.123,"y":0.098},{"x":0.123,"y":0.108},
{"x":0.005,"y":0.008},{"x":0.005,"y":0.019},
{"x":0.009,"y":0.010},{"x":0.009,"y":0.020},{"x":0.009,"y":0.027},
{"x":0.013,"y":0.013},{"x":0.013,"y":0.024},{"x":0.013,"y":0.031},
{"x":0.017,"y":0.014},{"x":0.017,"y":0.025},{"x":0.017,"y":0.036},
{"x":0.021,"y":0.018},{"x":0.021,"y":0.029},{"x":0.021,"y":0.040},
{"x":0.025,"y":0.021},{"x":0.025,"y":0.033},{"x":0.025,"y":0.046},
{"x":0.029,"y":0.024},{"x":0.029,"y":0.036},{"x":0.029,"y":0.049},{"x":0.029,"y":0.060},
{"x":0.033,"y":0.027},{"x":0.033,"y":0.039},{"x":0.033,"y":0.051},{"x":0.033,"y":0.063},
{"x":0.037,"y":0.029},{"x":0.037,"y":0.043},{"x":0.037,"y":0.055},{"x":0.037,"y":0.067},{"x":0.037,"y":0.078},
{"x":0.041,"y":0.031},{"x":0.041,"y":0.045},{"x":0.041,"y":0.057},{"x":0.041,"y":0.069},{"x":0.041,"y":0.081},
{"x":0.045,"y":0.034},{"x":0.045,"y":0.047},{"x":0.045,"y":0.060},{"x":0.045,"y":0.072},{"x":0.045,"y":0.084},
{"x":0.049,"y":0.036},{"x":0.049,"y":0.049},{"x":0.049,"y":0.062},{"x":0.049,"y":0.074},{"x":0.049,"y":0.086},{"x":0.049,"y":0.096},
{"x":0.053,"y":0.038},{"x":0.053,"y":0.051},{"x":0.053,"y":0.064},{"x":0.053,"y":0.076},{"x":0.053,"y":0.088},{"x":0.053,"y":0.099},
{"x":0.057,"y":0.040},{"x":0.057,"y":0.053},{"x":0.057,"y":0.066},{"x":0.057,"y":0.078},{"x":0.057,"y":0.090},{"x":0.057,"y":0.101},
{"x":0.061,"y":0.041},{"x":0.061,"y":0.055},{"x":0.061,"y":0.068},{"x":0.061,"y":0.080},{"x":0.061,"y":0.092},{"x":0.061,"y":0.103},
{"x":0.065,"y":0.043},{"x":0.065,"y":0.058},{"x":0.065,"y":0.070},{"x":0.065,"y":0.082},{"x":0.065,"y":0.094},{"x":0.065,"y":0.106},
{"x":0.069,"y":0.045},{"x":0.069,"y":0.060},{"x":0.069,"y":0.072},{"x":0.069,"y":0.084},{"x":0.069,"y":0.096},{"x":0.069,"y":0.108},
{"x":0.073,"y":0.047},{"x":0.073,"y":0.062},{"x":0.073,"y":0.074},{"x":0.073,"y":0.086},{"x":0.073,"y":0.098},{"x":0.073,"y":0.110},
{"x":0.077,"y":0.049},{"x":0.077,"y":0.064},{"x":0.077,"y":0.076},{"x":0.077,"y":0.088},{"x":0.077,"y":0.100},
{"x":0.081,"y":0.052},{"x":0.081,"y":0.066},{"x":0.081,"y":0.078},{"x":0.081,"y":0.090},{"x":0.081,"y":0.102},{"x":0.081,"y":0.113},
{"x":0.085,"y":0.054},{"x":0.085,"y":0.068},{"x":0.085,"y":0.080},{"x":0.085,"y":0.092},{"x":0.085,"y":0.104},{"x":0.085,"y":0.114},
{"x":0.089,"y":0.057},{"x":0.089,"y":0.070},{"x":0.089,"y":0.082},{"x":0.089,"y":0.094},{"x":0.089,"y":0.106},{"x":0.089,"y":0.117},
{"x":0.093,"y":0.060},{"x":0.093,"y":0.072},{"x":0.093,"y":0.084},{"x":0.093,"y":0.096},{"x":0.093,"y":0.108},{"x":0.093,"y":0.118},
{"x":0.097,"y":0.062},{"x":0.097,"y":0.074},{"x":0.097,"y":0.086},{"x":0.097,"y":0.098},{"x":0.097,"y":0.110},{"x":0.097,"y":0.120},
{"x":0.101,"y":0.064},{"x":0.101,"y":0.076},{"x":0.101,"y":0.090},{"x":0.101,"y":0.102},{"x":0.101,"y":0.114},{"x":0.101,"y":0.126},
{"x":0.105,"y":0.068},{"x":0.105,"y":0.082},{"x":0.105,"y":0.094},{"x":0.105,"y":0.106},{"x":0.105,"y":0.118},
{"x":0.109,"y":0.076},{"x":0.109,"y":0.088},{"x":0.109,"y":0.100},{"x":0.109,"y":0.112},
{"x":0.113,"y":0.086},{"x":0.113,"y":0.098},{"x":0.113,"y":0.109},
{"x":0.117,"y":0.094},{"x":0.117,"y":0.105}
]
},
"vconcat": [
{
  "width": 377, "height": 235,
  "title": {"text": "(a) -33 kPa", "offset": -4},
  "layer": [
    {"data": {"name": "a"}, "mark": {"type": "point", "shape": "diamond", "filled": true, "size": 110, "color": "#000080", "stroke": "#000080", "strokeWidth": 1, "opacity": 1},
     "encoding": {
       "x": {"field": "x", "type": "quantitative", "scale": {"domain": [0, 0.5], "nice": false, "zero": false}, "axis": {"values": [0, 0.1, 0.2, 0.3, 0.4, 0.5], "labelExpr": "replace(format(datum.value, '.2f'), '.', ',')", "title": null}},
       "y": {"field": "y", "type": "quantitative", "scale": {"domain": [0, 0.5], "nice": false, "zero": false}, "axis": {"values": [0, 0.1, 0.2, 0.3, 0.4, 0.5], "labelExpr": "replace(format(datum.value, '.2f'), '.', ',')", "title": null}}
     }},
    {"data": {"values": [{"x": 0.0093, "y": 0.007}, {"x": 0.495, "y": 0.493}]}, "mark": {"type": "line", "color": "#000000", "strokeWidth": 1.4},
     "encoding": {"x": {"field": "x", "type": "quantitative"}, "y": {"field": "y", "type": "quantitative"}}},
    {"data": {"values": [{"x": 0.016, "y": 0.436, "t": "r = 0,8445"}]}, "mark": {"type": "text", "align": "left", "baseline": "middle", "font": "Liberation Sans", "fontSize": 21, "color": "#000000"},
     "encoding": {"x": {"field": "x", "type": "quantitative"}, "y": {"field": "y", "type": "quantitative"}, "text": {"field": "t"}}}
  ]
},
{
  "width": 376, "height": 211,
  "title": {"text": "(b) -1.500 kPa", "offset": -5},
  "layer": [
    {"data": {"name": "b"}, "mark": {"type": "point", "shape": "diamond", "filled": true, "size": 110, "color": "#000080", "stroke": "#000080", "strokeWidth": 1, "opacity": 1},
     "encoding": {
       "x": {"field": "x", "type": "quantitative", "scale": {"domain": [0, 0.4], "nice": false, "zero": false}, "axis": {"values": [0, 0.1, 0.2, 0.3, 0.4], "labelExpr": "replace(format(datum.value, '.2f'), '.', ',')", "title": null, "minExtent": 46}},
       "y": {"field": "y", "type": "quantitative", "scale": {"domain": [0, 0.4], "nice": false, "zero": false}, "axis": {"values": [0, 0.1, 0.2, 0.3, 0.4], "labelExpr": "replace(format(datum.value, '.2f'), '.', ',')", "title": null}}
     }},
    {"data": {"values": [{"x": 0.0025, "y": 0.013}, {"x": 0.395, "y": 0.392}]}, "mark": {"type": "line", "color": "#000000", "strokeWidth": 1},
     "encoding": {"x": {"field": "x", "type": "quantitative"}, "y": {"field": "y", "type": "quantitative"}}},
    {"data": {"values": [{"x": 0.036, "y": 0.341, "t": "r = 0,8662"}]}, "mark": {"type": "text", "align": "left", "baseline": "middle", "font": "Liberation Sans", "fontSize": 21, "color": "#000000"},
     "encoding": {"x": {"field": "x", "type": "quantitative"}, "y": {"field": "y", "type": "quantitative"}, "text": {"field": "t"}}}
  ]
},
{
  "width": 375, "height": 212,
  "title": {"text": "(c) Água disponível", "offset": -2},
  "layer": [
    {"data": {"name": "c"}, "mark": {"type": "point", "shape": "diamond", "filled": true, "size": 110, "color": "#000080", "stroke": "#000080", "strokeWidth": 1, "opacity": 1},
     "encoding": {
       "x": {"field": "x", "type": "quantitative", "scale": {"domain": [0, 0.2], "nice": false, "zero": false}, "axis": {"values": [0, 0.05, 0.1, 0.15, 0.2], "labelExpr": "replace(format(datum.value, '.2f'), '.', ',')", "title": null}},
       "y": {"field": "y", "type": "quantitative", "scale": {"domain": [0, 0.2], "nice": false, "zero": false}, "axis": {"values": [0, 0.05, 0.1, 0.15, 0.2], "labelExpr": "replace(format(datum.value, '.2f'), '.', ',')", "title": "MENSURADOS, kg kg⁻¹", "titlePadding": 28}}
     }},
    {"data": {"values": [{"x": 0.0037, "y": 0.0066}, {"x": 0.197, "y": 0.193}]}, "mark": {"type": "line", "color": "#000000", "strokeWidth": 1},
     "encoding": {"x": {"field": "x", "type": "quantitative"}, "y": {"field": "y", "type": "quantitative"}}},
    {"data": {"values": [{"x": 0.131, "y": 0.066, "t": "r = 0,2932"}]}, "mark": {"type": "text", "align": "left", "baseline": "middle", "font": "Liberation Sans", "fontSize": 21, "color": "#000000"},
     "encoding": {"x": {"field": "x", "type": "quantitative"}, "y": {"field": "y", "type": "quantitative"}, "text": {"field": "t"}}}
  ]
},
{
  "width": 377, "height": 240,
  "title": {"text": "(d) -33 kPa", "offset": -7},
  "layer": [
    {"data": {"name": "d"}, "mark": {"type": "point", "shape": "circle", "filled": true, "size": 110, "color": "#000080", "opacity": 1},
     "encoding": {
       "x": {"field": "x", "type": "quantitative", "scale": {"domain": [0, 0.5], "nice": false, "zero": false}, "axis": {"values": [0, 0.1, 0.2, 0.3, 0.4, 0.5], "labelExpr": "replace(format(datum.value, '.2f'), '.', ',')", "title": null}},
       "y": {"field": "y", "type": "quantitative", "scale": {"domain": [0, 0.5], "nice": false, "zero": false}, "axis": {"values": [0, 0.1, 0.2, 0.3, 0.4, 0.5], "labelExpr": "replace(format(datum.value, '.2f'), '.', ',')", "title": null}}
     }},
    {"data": {"values": [{"x": 0.0014, "y": -0.011}, {"x": 0.496, "y": 0.489}]}, "mark": {"type": "line", "color": "#000000", "strokeWidth": 1},
     "encoding": {"x": {"field": "x", "type": "quantitative"}, "y": {"field": "y", "type": "quantitative"}}},
    {"data": {"values": [{"x": 0.054, "y": 0.445, "t": "r = 0,8931"}]}, "mark": {"type": "text", "align": "left", "baseline": "middle", "font": "Liberation Sans", "fontSize": 21, "color": "#000000"},
     "encoding": {"x": {"field": "x", "type": "quantitative"}, "y": {"field": "y", "type": "quantitative"}, "text": {"field": "t"}}}
  ]
},
{
  "width": 368, "height": 235,
  "title": {"text": "(e) Água disponível", "offset": -6},
  "layer": [
    {"data": {"name": "e"}, "mark": {"type": "point", "shape": "diamond", "filled": true, "size": 110, "color": "#000080", "stroke": "#000080", "strokeWidth": 1, "opacity": 1},
     "encoding": {
       "x": {"field": "x", "type": "quantitative", "scale": {"domain": [0, 0.2], "nice": false, "zero": false}, "axis": {"values": [0, 0.05, 0.1, 0.15, 0.2], "labelExpr": "replace(format(datum.value, '.2f'), '.', ',')", "title": "ESTIMADOS, kg kg⁻¹", "titlePadding": 9}},
       "y": {"field": "y", "type": "quantitative", "scale": {"domain": [0, 0.2], "nice": false, "zero": false}, "axis": {"values": [0, 0.05, 0.1, 0.15, 0.2], "labelExpr": "replace(format(datum.value, '.2f'), '.', ',')", "title": null}}
     }},
    {"data": {"values": [{"x": 0.001, "y": -0.002}, {"x": 0.203, "y": 0.196}]}, "mark": {"type": "line", "color": "#000000", "strokeWidth": 2},
     "encoding": {"x": {"field": "x", "type": "quantitative"}, "y": {"field": "y", "type": "quantitative"}}},
    {"data": {"values": [{"x": 0.130, "y": 0.044, "t": "r =  0,6820"}]}, "mark": {"type": "text", "align": "left", "baseline": "middle", "font": "Liberation Sans", "fontSize": 21, "color": "#000000"},
     "encoding": {"x": {"field": "x", "type": "quantitative"}, "y": {"field": "y", "type": "quantitative"}, "text": {"field": "t"}}}
  ]
}
]
}
